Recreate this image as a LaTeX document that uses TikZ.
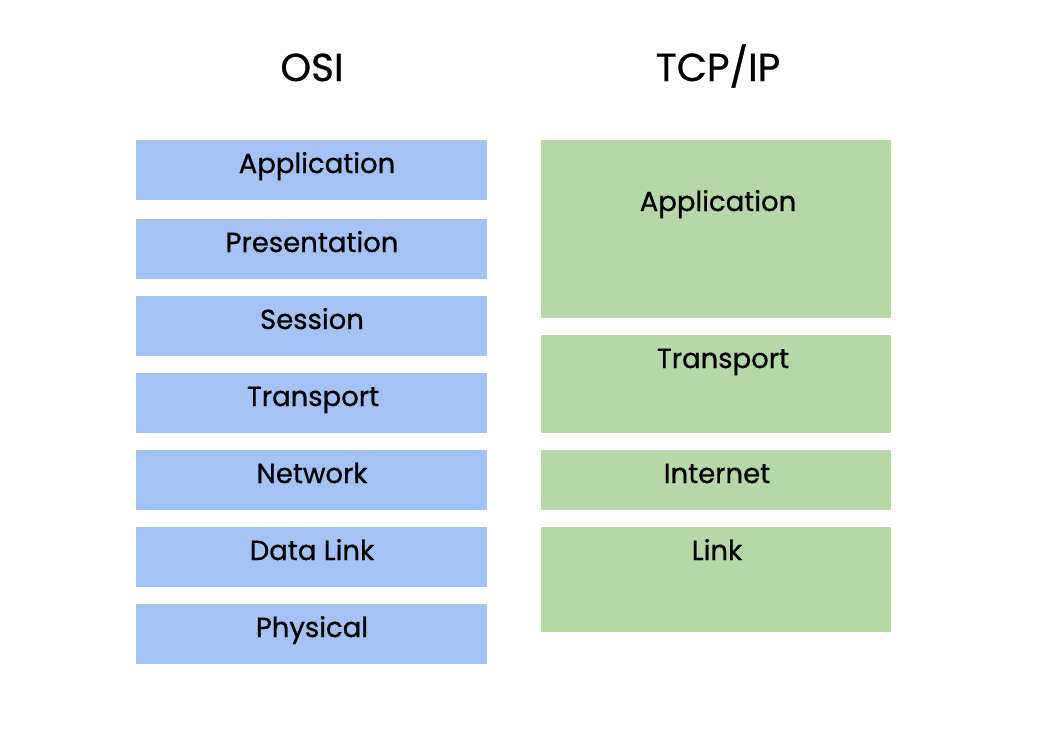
\documentclass[tikz,border=0pt]{standalone}
\usepackage{fontspec}
\setmainfont{Poppins}[FakeBold=0.8]
\definecolor{osiblue}{HTML}{A4C2F4}
\definecolor{tcpgreen}{HTML}{B6D7A8}
\begin{document}
\begin{tikzpicture}[x=1pt,y=-1pt,
  osibox/.style={fill=osiblue,draw=none},
  tcpbox/.style={fill=tcpgreen,draw=none},
  lbl/.style={anchor=base,font=\fontsize{27.5}{32}\selectfont,inner sep=0pt},
  ttl/.style={anchor=base,font=\fontsize{39}{46}\selectfont,inner sep=0pt}]
\useasboundingbox[fill=white] (0,0) rectangle (1041,748);
\node[ttl] (osi) at (312,81) {OSI};
\node[ttl] (tcp) at (718,81) {TCP/IP};
% OSI layers
\fill[osibox] (136,140) rectangle (487,200);
\fill[osibox] (136,219) rectangle (487,279);
\fill[osibox] (136,296) rectangle (487,356);
\fill[osibox] (136,373) rectangle (487,433);
\fill[osibox] (136,450) rectangle (487,510);
\fill[osibox] (136,527) rectangle (487,587);
\fill[osibox] (136,604) rectangle (487,664);
\node[lbl] (oapp) at (317,173) {Application};
\node[lbl] (opre) at (312,252) {Presentation};
\node[lbl] (oses) at (312,329) {Session};
\node[lbl] (otra) at (313,406) {Transport};
\node[lbl] (onet) at (312,483) {Network};
\node[lbl] (odl) at (312,560) {Data Link};
\node[lbl] (ophy) at (312,637) {Physical};
% TCP/IP layers
\fill[tcpbox] (541,140) rectangle (891,318);
\fill[tcpbox] (541,335) rectangle (891,433);
\fill[tcpbox] (541,450) rectangle (891,510);
\fill[tcpbox] (541,527) rectangle (891,632);
\node[lbl] (tapp) at (718,211) {Application};
\node[lbl] (ttra) at (723,368) {Transport};
\node[lbl] (tint) at (717,483) {Internet};
\node[lbl] (tlnk) at (717,560) {Link};
\end{tikzpicture}
\end{document}
